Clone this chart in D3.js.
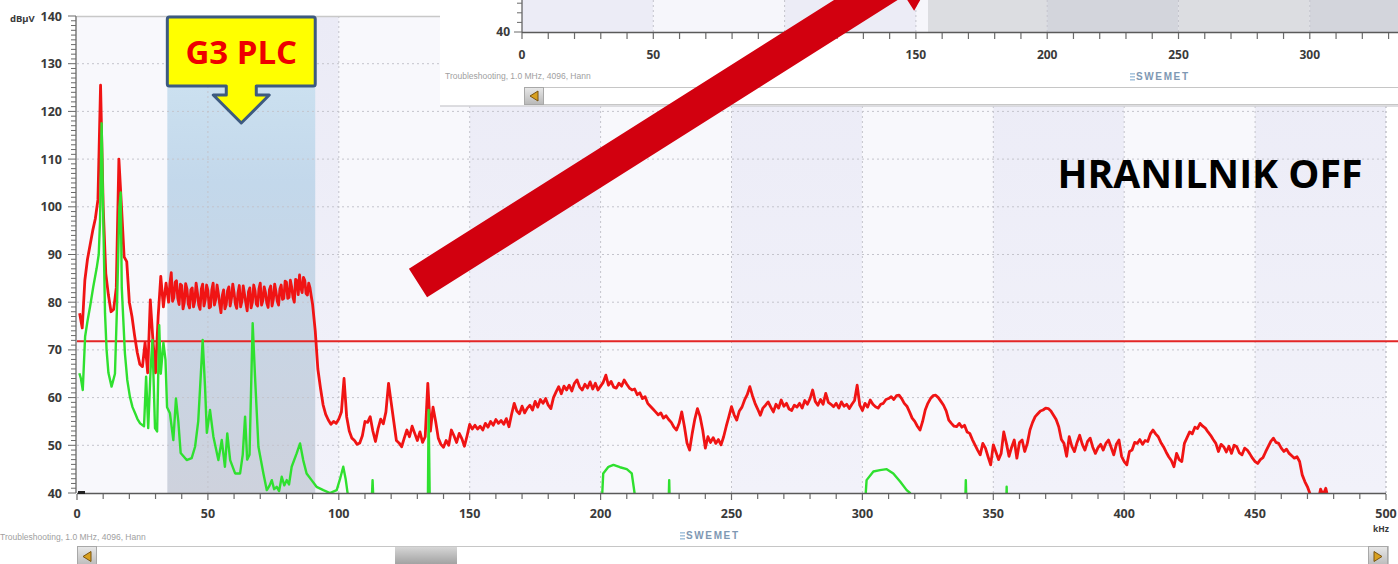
<!DOCTYPE html>
<html>
<head>
<meta charset="utf-8">
<script src="https://cdn.jsdelivr.net/npm/d3@7"></script>
<style>
  html, body { margin: 0; padding: 0; background: #fff; overflow: hidden; }
  svg { display: block; }
</style>
</head>
<body>
<svg id="chart" width="1398" height="564"></svg>
<script>
// ---- spectrum data (kHz / dBµV) ----
const yTickValues = [40, 50, 60, 70, 80, 90, 100, 110, 120, 130, 140];
const xTickValues = [0, 50, 100, 150, 200, 250, 300, 350, 400, 450, 500];
const stripXTickValues = [0, 50, 100, 150, 200, 250, 300];
const g3Band = [34.5, 91];          // G3-PLC CENELEC band shown shaded
const limitLevel = 71.8;            // horizontal limit line
const stripSelection = 154.6;       // start of the selected span in the overview strip

// maximum trace, one value per 1 kHz bin, starting at 1 kHz
const redStartKHz = 1;
const redBinKHz = 1;
const redLevels = [
  77.7, 74.6, 84.6, 89, 92, 95, 97.5, 101.5, 125.5, 100,
  86, 81.5, 78, 78.5, 83, 110, 100, 89.5, 88.5, 80,
  77, 73, 69.5, 67, 66.5, 71.5, 65.2, 80.5, 72, 65.2,
  77, 85.4, 79, 84, 80, 86.2, 81, 84.5, 79.5, 83.5,
  80, 82.8, 78.8, 83, 80.2, 82, 78.5, 83.8, 80.5, 82.5,
  79, 84, 80.6, 81.8, 77.8, 82.6, 79.5, 83.2, 80.8, 82,
  78.7, 83.5, 80.2, 81.6, 78.2, 83, 80, 82.4, 79.2, 84,
  80.4, 82, 78.9, 83.4, 80.6, 82.2, 79.4, 83.6, 80.8, 84.2,
  81, 83.2, 80, 84.5, 85.7, 82, 84.6, 81.5, 83, 79.5,
  74, 66, 62, 58.5, 56.5, 55.3, 54.4, 55, 54.6, 55.5,
  57, 64, 56, 53, 51.5, 51, 50.2, 50.5, 52, 55,
  54.8, 56, 53, 50.8, 53.5, 55.5, 54.5, 57, 63, 59,
  55, 51, 50.5, 49.7, 51.5, 53.2, 51.8, 54, 52.5, 51,
  52.8, 50.6, 51.8, 63, 53, 58, 55, 51.5, 50.2, 49.6,
  51, 50, 53.2, 52, 50.6, 52.5, 51.4, 49.8, 52, 54.4,
  53.4, 54.2, 53.4, 54, 53.2, 54.6, 53.8, 55, 54.2, 55.4,
  54.6, 55.2, 54.4, 55.6, 53.9, 56.5, 58.8, 57.2, 56.6, 58.2,
  56.8, 57.8, 58.4, 57.4, 59.2, 58, 59.6, 58.8, 59.8, 58.4,
  57.7, 60, 61.2, 62.3, 60.8, 62.4, 61.6, 62.6, 61.4, 63,
  63.7, 62.2, 61.6, 62.8, 62, 63.3, 61.8, 63, 61.6, 62.4,
  63.2, 64.7, 62.6, 63.4, 62.2, 62, 63, 62.4, 63.7, 62.8,
  62, 61.6, 61.8, 60.6, 61, 59.8, 60.2, 58.8, 58.2, 57.6,
  57, 56.4, 56.8, 55.7, 56.2, 55.4, 54.8, 53.8, 53.2, 54.6,
  57, 54, 50.5, 49, 52.5, 55.5, 57.7, 56, 53.2, 49.4,
  51.8, 50.6, 51.6, 50.4, 51.2, 50.1, 51.8, 54, 56, 58.1,
  56.4, 55.3, 57.2, 58, 59.5, 60.6, 62.3, 60.4, 58.8, 57.6,
  56.3, 57.8, 58.4, 59.1, 58, 57, 58.6, 57.8, 59.5, 58.2,
  58.8, 57.6, 57.3, 58.4, 58, 58.8, 57.8, 59.4, 58.6, 59.8,
  61.6, 59.2, 58.4, 59.6, 58.6, 60.9, 59, 58.6, 58.1, 58.8,
  57.8, 59.1, 58.2, 58.6, 57.7, 58.6, 59.4, 62.6, 58.4, 57.3,
  58.8, 58, 59.5, 58.6, 58.1, 57.8, 58.6, 58.8, 59.6, 59.8,
  60.2, 59.6, 60.4, 60.5, 59.8, 58.8, 58.2, 57, 55.7, 55,
  54, 53.2, 55, 57.4, 58.8, 59.8, 60.4, 60.5, 60, 59.2,
  58.4, 57.2, 55.3, 54.6, 54, 53.9, 54.6, 53.8, 54.2, 52.8,
  52.5, 51.2, 50.1, 49, 48, 50.4, 49.4, 47.6, 45.9, 50.1,
  48.6, 47, 48.3, 52.8, 50.4, 47.7, 49.6, 51.1, 47.3, 50.6,
  51.1, 48.7, 50.4, 53.2, 54.8, 56, 56.6, 57.2, 57.4, 57.8,
  57.7, 57.2, 56.3, 55.4, 53.9, 51.2, 50.4, 47.7, 51.8, 49.8,
  48.7, 50.6, 52.1, 50.2, 49, 50.8, 51.5, 49.6, 48.3, 49.5,
  50.2, 49, 50.4, 51.1, 49.6, 48, 50.2, 51.1, 47.7, 46.6,
  45.9, 48.7, 49, 50.6, 50.4, 51.2, 50.2, 51, 50.8, 52.4,
  53.2, 52.4, 51.8, 50.6, 49.7, 48.6, 47.6, 46.8, 45.5, 48.3,
  47, 46.6, 50.4, 51.6, 52.8, 52.4, 53.8, 53.5, 54.6, 54,
  53.6, 52.8, 52.1, 51.2, 50.4, 48.7, 50.2, 49.7, 48.6, 49.8,
  48.3, 50, 49.7, 48.4, 48, 49.4, 49, 48.2, 47.3, 46.6,
  46.2, 47, 47.4, 48.6, 49.7, 50.8, 51.5, 50.6, 50.4, 49.4,
  48.7, 49.2, 48.3, 47.8, 47.3, 47.6, 46.6, 43.8, 42.4, 41.3,
  39.8, 38.5, 37.5, 38, 40.8, 39.6, 41, 38.5, 37.5, 37
];
// extra half-bin readings across the G3 plateau, 35.5 … 89.5 kHz
const plateauHalfStart = 35.5;
const plateauHalfLevels = [
  84, 80.2, 84.2, 80.8, 83.8, 78.6, 83.9, 79.6, 82.6, 79,
  84, 79.4, 82.8, 79.2, 83.6, 78.8, 82.6, 79.4, 83.6, 79.6,
  81.4, 78.6, 82.4, 79.2, 83.8, 79.6, 82, 79, 83.4, 79.8,
  82.2, 78.8, 83.6, 79.6, 82.8, 79.4, 83.2, 79.8, 82.6, 79.2,
  83.8, 80.2, 82.8, 80.6, 84.4, 80.8, 84.6, 81, 84.8, 81.6,
  83, 85.2, 81.8, 84, 81.2
];

// second trace as [kHz, dBµV] points (drops below the 40 dB floor between bursts)
const greenTrace = [
  [0.9, 65.1], [1.5, 64], [2.2, 61.6], [3.1, 72.8], [4, 76], [5, 79.1], [6.2, 83.2],
  [7.5, 87.1], [8.3, 90], [8.8, 97], [9.4, 117.5], [10, 98.7], [10.7, 77.7], [11.3, 70],
  [12, 65.2], [13.2, 62.3], [14.5, 65], [15.2, 77.7], [16.2, 100], [16.7, 103], [17.1, 83],
  [18.3, 69.3], [19.2, 63.7], [20.2, 60.2], [21.2, 58], [22.2, 56.7], [23.1, 55.5],
  [24.1, 54.6], [25.6, 54], [26.4, 64.4], [27.2, 53.6], [28.1, 65.7], [28.8, 72.1],
  [29.8, 53.6], [30.6, 52.9], [31.4, 75.2], [32, 65], [33, 71.5], [33.8, 67.9], [34.4, 58],
  [35.5, 56.7], [36.8, 51.1], [37.8, 59.8], [38.7, 55], [39.6, 48.4], [41.9, 46.9],
  [43.8, 47.3], [45.1, 49.7], [46.3, 55], [47.6, 67.9], [48, 72.1], [48.9, 62.3],
  [49.6, 52.6], [50.8, 57.4], [52.1, 51.8], [54, 46.9], [55.3, 51.1], [56.5, 45.5],
  [57.4, 52.5], [58.5, 46.9], [60.4, 44.1], [62.3, 44.1], [63.3, 48], [64.2, 56], [65, 47],
  [65.9, 48], [67.1, 75.6], [68, 64.4], [69.3, 49.7], [71.2, 44.1], [72.5, 40.6],
  [73.5, 41.5], [74.4, 42.7], [75.3, 40.8], [76.3, 41.3], [77.2, 40.4], [78.2, 43.4],
  [79.2, 41.6], [80.1, 42.7], [81, 41.8], [82, 45.5], [83.9, 48.3], [85.2, 50.4],
  [86.4, 46.9], [87.7, 44.1], [89.6, 42.7], [91.5, 41.3], [94.1, 40.6], [96.6, 40],
  [99.2, 40.6], [100.5, 43], [101.7, 45.5], [102.6, 43], [103.6, 39], [104, 36],
  [112.4, 36], [112.9, 42.7], [113.4, 36], [134, 36], [134.3, 57.4], [134.8, 36],
  [200.3, 36], [201, 44.1], [203, 45.5], [204.9, 45.9], [207.4, 45.4], [210, 45],
  [211.9, 44.1], [213.1, 39.5], [213.5, 36], [225.9, 36], [226.2, 42.7], [226.5, 36],
  [300.8, 36], [301.6, 42.7], [304.2, 44.5], [306.7, 44.8], [309.3, 45], [311.8, 44.1],
  [314.4, 42.4], [316.9, 40.6], [318.2, 40], [318.6, 36], [339.2, 36], [339.5, 42.7],
  [339.8, 36], [354.9, 36], [355.1, 41.3], [355.3, 36], [480, 36]
];

const redPoints = redLevels.map((v, i) => [redStartKHz + i * redBinKHz, v])
  .concat(plateauHalfLevels.map((v, i) => [plateauHalfStart + i, v]))
  .sort((a, b) => a[0] - b[0]);

// ---- layout ----
const W = 1398, H = 564;
const svg = d3.select("#chart");
const x = d3.scaleLinear().domain([0, 500]).range([77, 1386]);
const y = d3.scaleLinear().domain([40, 140]).range([493, 16]);
const axisFont = "'Noto Sans', 'DejaVu Sans', sans-serif";

const defs = svg.append("defs");
const lav = defs.append("linearGradient").attr("id", "lav").attr("x1", 0).attr("y1", 0).attr("x2", 0).attr("y2", 1);
lav.append("stop").attr("offset", "0%").attr("stop-color", "#ebebf6");
lav.append("stop").attr("offset", "100%").attr("stop-color", "#f2f2fa");
const g3g = defs.append("linearGradient").attr("id", "g3g").attr("x1", 0).attr("y1", 0).attr("x2", 0).attr("y2", 1);
g3g.append("stop").attr("offset", "0%").attr("stop-color", "#d1e6f3");
g3g.append("stop").attr("offset", "35%").attr("stop-color", "#c3d8eb");
g3g.append("stop").attr("offset", "100%").attr("stop-color", "#ced2dd");
const thumbG = defs.append("linearGradient").attr("id", "thumb").attr("x1", 0).attr("y1", 0).attr("x2", 0).attr("y2", 1);
thumbG.append("stop").attr("offset", "0%").attr("stop-color", "#d6d6d6");
thumbG.append("stop").attr("offset", "100%").attr("stop-color", "#9c9c9c");
const btnG = defs.append("linearGradient").attr("id", "btn").attr("x1", 0).attr("y1", 0).attr("x2", 0).attr("y2", 1);
btnG.append("stop").attr("offset", "0%").attr("stop-color", "#e8e8e8");
btnG.append("stop").attr("offset", "100%").attr("stop-color", "#b8b8b8");
defs.append("clipPath").attr("id", "plotClip").append("rect")
  .attr("x", x(0)).attr("y", y(140)).attr("width", x(500) - x(0)).attr("height", y(40) - y(140));

// ---- main spectrum plot ----
const plot = svg.append("g");
const bands = d3.range(0, 500, 50);
plot.selectAll("rect.band").data(bands).join("rect")
  .attr("x", d => x(d)).attr("width", d => x(d + 50) - x(d))
  .attr("y", y(140)).attr("height", y(40) - y(140))
  .attr("fill", d => (d / 50) % 2 ? "url(#lav)" : "#f8f8fc");

plot.append("rect")
  .attr("x", x(g3Band[0])).attr("width", x(g3Band[1]) - x(g3Band[0]))
  .attr("y", y(140)).attr("height", y(40) - y(140))
  .attr("fill", "url(#g3g)");

// dotted grid
plot.selectAll("line.hg").data(yTickValues.filter(v => v > 40 && v < 140)).join("line")
  .attr("x1", x(0)).attr("x2", x(500)).attr("y1", d => y(d)).attr("y2", d => y(d))
  .attr("stroke", "#c4c4cc").attr("stroke-width", 1).attr("stroke-dasharray", "2,3");
plot.selectAll("line.vg").data(xTickValues.filter(v => v > 0)).join("line")
  .attr("x1", d => x(d)).attr("x2", d => x(d)).attr("y1", y(140)).attr("y2", y(40))
  .attr("stroke", d => d === 500 ? "#a8a8b0" : "#c4c4cc").attr("stroke-width", 1).attr("stroke-dasharray", "2,3");

// top frame edge
plot.append("line").attr("x1", x(0)).attr("x2", 440).attr("y1", y(140) + 0.5).attr("y2", y(140) + 0.5)
  .attr("stroke", "#c8c8c8").attr("stroke-width", 1.5);

// limit line
svg.append("line")
  .attr("x1", x(0)).attr("x2", W).attr("y1", y(limitLevel)).attr("y2", y(limitLevel))
  .attr("stroke", "#e32626").attr("stroke-width", 2);

// traces
const line = d3.line().x(d => x(d[0])).y(d => y(d[1]));
const traces = svg.append("g").attr("clip-path", "url(#plotClip)");
traces.append("path").datum(redPoints).attr("d", line)
  .attr("fill", "none").attr("stroke", "#f01414").attr("stroke-width", 2.8).attr("stroke-linejoin", "round");
traces.append("path").datum(greenTrace).attr("d", line)
  .attr("fill", "none").attr("stroke", "#2fe02f").attr("stroke-width", 2.4).attr("stroke-linejoin", "round");

// y axis
const yAxis = svg.append("g");
yAxis.append("line").attr("x1", 76).attr("x2", 76).attr("y1", y(140)).attr("y2", y(40))
  .attr("stroke", "#5a5a5a").attr("stroke-width", 1.2);
yAxis.selectAll("line.ymin").data(d3.range(40, 141, 1)).join("line")
  .attr("x1", d => d % 10 === 0 ? 68 : 71).attr("x2", 76)
  .attr("y1", d => y(d)).attr("y2", d => y(d))
  .attr("stroke", "#6a6a6a").attr("stroke-width", 1);
yAxis.selectAll("text").data(yTickValues).join("text")
  .attr("x", 62).attr("y", d => y(d)).attr("dy", "0.36em")
  .attr("text-anchor", "end").attr("font-family", axisFont).attr("font-weight", 700)
  .attr("font-size", 12.5).attr("fill", "#3a3a3a").text(d => d);
svg.append("text").attr("x", 10).attr("y", 22).attr("font-family", axisFont).attr("font-weight", 700)
  .attr("font-size", 9.5).attr("fill", "#3a3a3a").text("dBµV");

// x axis
const xAxis = svg.append("g");
xAxis.append("line").attr("x1", x(0)).attr("x2", x(500)).attr("y1", y(40) + 0.5).attr("y2", y(40) + 0.5)
  .attr("stroke", "#5a5a5a").attr("stroke-width", 1.5);
xAxis.selectAll("line.xmin").data(d3.range(0, 501, 10)).join("line")
  .attr("x1", d => x(d)).attr("x2", d => x(d))
  .attr("y1", y(40) + 1).attr("y2", d => y(40) + (d % 50 === 0 ? 7 : 6))
  .attr("stroke", "#6a6a6a").attr("stroke-width", 1.2);
xAxis.selectAll("text").data(xTickValues).join("text")
  .attr("x", d => x(d)).attr("y", 518).attr("text-anchor", "middle")
  .attr("font-family", axisFont).attr("font-weight", 700).attr("font-size", 12.5)
  .attr("fill", "#3a3a3a").text(d => d);
svg.append("text").attr("x", 1381).attr("y", 532).attr("text-anchor", "middle")
  .attr("font-family", axisFont).attr("font-weight", 700).attr("font-size", 8.5)
  .attr("fill", "#3a3a3a").text("kHz");
svg.append("rect").attr("x", x(0) + 1).attr("y", y(40) - 2).attr("width", 7).attr("height", 3).attr("fill", "#222");

// footer of main window
svg.append("text").attr("x", 0).attr("y", 540).attr("font-family", "'Liberation Sans', sans-serif")
  .attr("font-size", 8.5).attr("fill", "#a0a0a0").text("Troubleshooting, 1.0 MHz, 4096, Hann");
function swemet(g, cx, cy) {
  const s = g.append("g").attr("transform", `translate(${cx},${cy})`);
  [0, 3, 6].forEach(o => s.append("rect").attr("x", -32).attr("y", -7 + o).attr("width", 5).attr("height", 1.6).attr("fill", "#a9c6de"));
  s.append("text").attr("x", -26).attr("y", 0).attr("font-family", "'Liberation Sans Narrow', 'Liberation Sans', sans-serif")
    .attr("font-weight", 700).attr("font-size", 10).attr("fill", "#7e98b3").attr("textLength", 52).text("SWEMET");
}
swemet(svg, 712, 539);

function scrollbar(g, x0, x1, y0, h, thumb, rightBtn) {
  g.append("rect").attr("x", x0 + 0.5).attr("y", y0 + 0.5).attr("width", x1 - x0).attr("height", h)
    .attr("fill", "#fff").attr("stroke", "#c6c6c6");
  g.append("rect").attr("x", x0 + 0.5).attr("y", y0 + 0.5).attr("width", 19).attr("height", h)
    .attr("fill", "url(#btn)").attr("stroke", "#a8a8a8");
  g.append("path").attr("d", `M${x0 + 6},${y0 + h / 2 + 0.5} L${x0 + 14},${y0 + h / 2 - 4.5} L${x0 + 14},${y0 + h / 2 + 5.5} Z`)
    .attr("fill", "#d8a020").attr("stroke", "#7a5410").attr("stroke-width", 1);
  if (rightBtn) {
    g.append("rect").attr("x", x1 - 19.5).attr("y", y0 + 0.5).attr("width", 19).attr("height", h)
      .attr("fill", "url(#btn)").attr("stroke", "#a8a8a8");
    g.append("path").attr("d", `M${x1 - 6},${y0 + h / 2 + 0.5} L${x1 - 14},${y0 + h / 2 - 4.5} L${x1 - 14},${y0 + h / 2 + 5.5} Z`)
      .attr("fill", "#d8a020").attr("stroke", "#7a5410").attr("stroke-width", 1);
  }
  if (thumb) {
    g.append("rect").attr("x", thumb[0]).attr("y", y0 + 1).attr("width", thumb[1] - thumb[0]).attr("height", h - 1)
      .attr("fill", "url(#thumb)");
  }
}
scrollbar(svg, x(0), 1388, 546, 20, [395, 457], true);

// ---- overview strip (second window) ----
const strip = svg.append("g");
const xt = d3.scaleLinear().domain([0, 500]).range([522, 522 + 500 * 131.3 / 50]);
const yt = d3.scaleLinear().domain([40, 50]).range([32, -16]);
strip.append("rect").attr("x", 440).attr("y", 0).attr("width", W - 440).attr("height", 106).attr("fill", "#fff");
strip.append("line").attr("x1", 440).attr("x2", W).attr("y1", 106).attr("y2", 106).attr("stroke", "#d2d2d6").attr("stroke-width", 1.5);
strip.selectAll("rect.tb").data(d3.range(0, 350, 50)).join("rect")
  .attr("x", d => xt(d)).attr("width", d => xt(d + 50) - xt(d)).attr("y", 0).attr("height", 32)
  .attr("fill", d => (d / 50) % 2 ? "#f6f6fb" : "#ececf6");
strip.selectAll("rect.sel").data(d3.range(150, 350, 50)).join("rect")
  .attr("x", d => Math.max(xt(d), xt(stripSelection))).attr("width", d => xt(d + 50) - Math.max(xt(d), xt(stripSelection)))
  .attr("y", 0).attr("height", 32)
  .attr("fill", d => (d / 50) % 2 ? "#dcdde1" : "#d3d5dc");
strip.selectAll("line.tg").data([50, 100, 150, 200, 250, 300]).join("line")
  .attr("x1", d => xt(d)).attr("x2", d => xt(d)).attr("y1", 0).attr("y2", 32)
  .attr("stroke", "#c4c4cc").attr("stroke-dasharray", "2,3");
strip.append("line").attr("x1", xt(0)).attr("x2", xt(0)).attr("y1", 0).attr("y2", 33).attr("stroke", "#5a5a5a").attr("stroke-width", 1.2);
strip.selectAll("line.tyt").data([40, 42, 44, 46]).join("line")
  .attr("x1", d => d === 40 ? xt(0) - 8 : xt(0) - 5).attr("x2", xt(0)).attr("y1", d => yt(d)).attr("y2", d => yt(d))
  .attr("stroke", "#6a6a6a");
strip.append("text").attr("x", 510).attr("y", yt(40)).attr("dy", "0.36em").attr("text-anchor", "end")
  .attr("font-family", axisFont).attr("font-weight", 700).attr("font-size", 12).attr("fill", "#3a3a3a").text("40");
strip.append("line").attr("x1", xt(0)).attr("x2", W).attr("y1", 32.5).attr("y2", 32.5).attr("stroke", "#5a5a5a").attr("stroke-width", 1.5);
strip.selectAll("line.txt").data(d3.range(0, 340, 10)).join("line")
  .attr("x1", d => xt(d)).attr("x2", d => xt(d)).attr("y1", 33).attr("y2", 39)
  .attr("stroke", "#6a6a6a").attr("stroke-width", 1.2);
strip.selectAll("text.tl").data(stripXTickValues).join("text")
  .attr("x", d => xt(d)).attr("y", 59).attr("text-anchor", "middle")
  .attr("font-family", axisFont).attr("font-weight", 700).attr("font-size", 12)
  .attr("fill", "#3a3a3a").text(d => d);
strip.append("text").attr("x", 445).attr("y", 79).attr("font-family", "'Liberation Sans', sans-serif")
  .attr("font-size", 8.5).attr("fill", "#a0a0a0").text("Troubleshooting, 1.0 MHz, 4096, Hann");
swemet(strip, 1162, 80);
scrollbar(strip, 524, W + 2, 87, 17, null, false);

// ---- annotations ----
// G3 PLC callout, spanning the shaded band
const cl = x(g3Band[0]), cr = x(g3Band[1]), cm = (cl + cr) / 2;
const ct = y(140) + 1, cb = 86;
const callout = `M${cl + 2},${ct} L${cr - 2},${ct} Q${cr},${ct} ${cr},${ct + 2} L${cr},${cb - 2} Q${cr},${cb} ${cr - 2},${cb}
  L${cm + 15},${cb} L${cm + 15},${cb + 9} L${cm + 28},${cb + 9} L${cm},${cb + 37} L${cm - 28},${cb + 9}
  L${cm - 15},${cb + 9} L${cm - 15},${cb} L${cl + 2},${cb} Q${cl},${cb} ${cl},${cb - 2} L${cl},${ct + 2} Q${cl},${ct} ${cl + 2},${ct} Z`;
svg.append("path").attr("d", callout).attr("fill", "#ffff00").attr("stroke", "#3d5a80")
  .attr("stroke-width", 3).attr("stroke-linejoin", "round");
svg.append("text").attr("x", cm).attr("y", 64).attr("text-anchor", "middle")
  .attr("font-family", "'Open Sans', sans-serif").attr("font-weight", 700).attr("font-size", 33)
  .attr("fill", "#ee0000").text("G3 PLC");

svg.append("text").attr("x", 1210).attr("y", 188).attr("text-anchor", "middle")
  .attr("font-family", "'Open Sans', sans-serif").attr("font-weight", 700).attr("font-size", 40)
  .attr("fill", "#000").attr("textLength", 305).attr("lengthAdjust", "spacingAndGlyphs").text("HRANILNIK OFF");

// big red pointer arrow
const S = [418, 283], u = [0.845, -0.534], n = [0.534, 0.845];
const shaftHalf = 17, headHalf = 35, shaftLen = 565, headLen = 65;
const P = (t, k) => [S[0] + u[0] * t + n[0] * k, S[1] + u[1] * t + n[1] * k];
const arrowPts = [P(0, -shaftHalf), P(0, shaftHalf), P(shaftLen, shaftHalf), P(shaftLen, headHalf),
  P(shaftLen + headLen, 0), P(shaftLen, -headHalf), P(shaftLen, -shaftHalf)];
svg.append("path").attr("d", "M" + arrowPts.map(p => p.join(",")).join("L") + "Z").attr("fill", "#d2000f");
</script>
</body>
</html>
